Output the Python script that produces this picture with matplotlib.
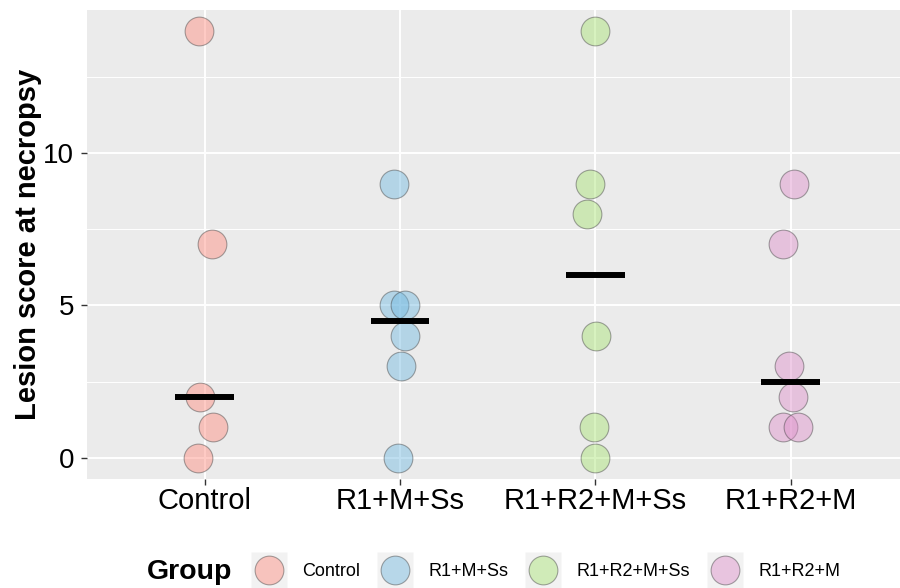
import numpy as np
import matplotlib
matplotlib.use("Agg")
import matplotlib.pyplot as plt
from matplotlib.lines import Line2D
from matplotlib.legend_handler import HandlerTuple

plt.rcParams["font.family"] = ["Liberation Sans", "DejaVu Sans"]

groups = ["Control", "R1+M+Ss", "R1+R2+M+Ss", "R1+R2+M"]
scores = [
    [14, 7, 2, 1, 0],
    [9, 5, 5, 4, 3, 0],
    [14, 9, 8, 4, 1, 0],
    [9, 7, 3, 2, 1, 1],
]
# horizontal jitter for each point (category units)
jitter = [
    [-0.026, 0.038, -0.022, 0.041, -0.031],
    [-0.031, -0.029, 0.024, 0.028, 0.007, -0.012],
    [-0.002, -0.028, -0.043, 0.002, -0.004, -0.002],
    [0.019, -0.037, -0.010, 0.012, -0.037, 0.036],
]
colors = ["#FF8B7E", "#70B8E0", "#A8E473", "#DE8ECA"]
y_ticks = [0, 5, 10]

fig = plt.figure(figsize=(9, 5.88), dpi=100)
ax = fig.add_axes([0.097, 0.1854, 0.9117, 0.7976])
ax.set_facecolor("#EBEBEB")
for s in ax.spines.values():
    s.set_visible(False)

ax.set_xlim(-0.6, 3.6)
ax.set_ylim(-0.7, 14.7)
ax.set_xticks(range(len(groups)))
ax.set_xticklabels(groups)
ax.set_yticks(y_ticks)
ax.set_yticks([2.5, 7.5, 12.5], minor=True)
ax.grid(True, which="major", color="white", lw=1.4)
ax.grid(True, which="minor", axis="y", color="white", lw=0.7)
ax.set_axisbelow(True)
ax.tick_params(axis="both", which="major", length=4, width=1, color="#333333",
               labelcolor="black")
ax.tick_params(axis="x", labelsize=21, pad=2)
ax.tick_params(axis="y", labelsize=20, pad=5.5)
ax.tick_params(which="minor", length=0)

for i, (vals, jit) in enumerate(zip(scores, jitter)):
    x = i + np.array(jit)
    ax.scatter(x, vals, s=428, c=colors[i], alpha=0.45,
               edgecolors=(0.25, 0.25, 0.25, 0.75), linewidths=0.8, zorder=3)
    med = np.median(vals)
    ax.hlines(med, i - 0.15, i + 0.15, colors="black", lw=4.3,
              capstyle="butt", zorder=4)

ax.set_ylabel("Lesion score at necropsy", fontsize=21, fontweight="bold")
ax.yaxis.set_label_coords(-0.055, 0.5)

# legend along the bottom
fig.text(147 / 900, 1 - 572 / 588, "Group", fontsize=20.5, fontweight="bold",
         va="center", ha="left")
handles = []
for c in colors:
    key = Line2D([], [], marker="s", ls="none", markersize=26.5,
                 markerfacecolor="#F2F2F2", markeredgecolor="none")
    dot = Line2D([], [], marker="o", ls="none", markersize=20.7,
                 markerfacecolor=c, alpha=0.45,
                 markeredgecolor=(0.25, 0.25, 0.25), markeredgewidth=0.8)
    handles.append((key, dot))
fig.legend(handles, groups, ncol=4, loc="center left",
           bbox_to_anchor=(250 / 900, 1 - 572 / 588), frameon=False,
           fontsize=13, handlelength=2.05, handletextpad=0.83,
           columnspacing=0.91, borderpad=0, borderaxespad=0,
           handler_map={tuple: HandlerTuple(ndivide=1, pad=0)})

fig.savefig("out.png", dpi=100)
